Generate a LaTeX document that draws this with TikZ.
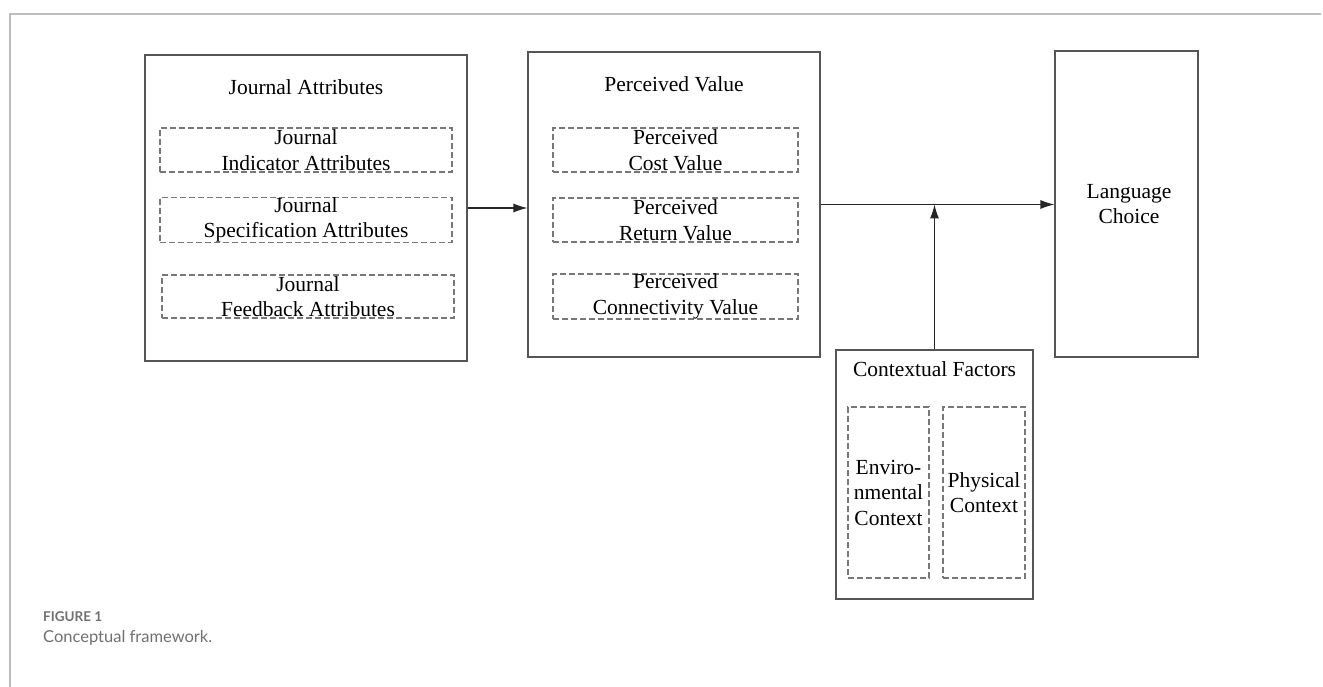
\documentclass[tikz,border=0pt]{standalone}
\usepackage{fontspec}
\setmainfont{Liberation Serif}
\newfontfamily\capfont{Lato}
\usetikzlibrary{arrows.meta}
\definecolor{boxgray}{HTML}{555555}
\definecolor{dashgray}{HTML}{777777}
\definecolor{framegray}{HTML}{BDBDBD}
\definecolor{capgray}{HTML}{707070}

\begin{document}
\begin{tikzpicture}[x=1pt,y=-1pt,
    every node/.style={font=\fontsize{21.5}{25.5}\selectfont,align=center,inner sep=0},
    outerbox/.style={draw=boxgray,line width=1.1pt},
    innerbox/.style={draw=dashgray,line width=1.1pt,dash pattern=on 6pt off 3pt},
    flow/.style={-{Latex[length=14pt,width=9pt]},line width=1.1pt,draw=black!85}]
        \useasboundingbox (0,0) rectangle (1323,687);
        % frame
        \draw[framegray,line width=2.2pt] (10,687) -- (10,14) -- (1321,14);
        % journal attributes
        \node[outerbox,minimum width=322pt,minimum height=306pt] (ja) at (306,208) {};
        \node (jatitle) at (306,87) {Journal Attributes};
        \node[innerbox,minimum width=292pt,minimum height=44pt] (ja1) at (306,150) {Journal\\Indicator Attributes};
        \node[innerbox,minimum width=292pt,minimum height=44pt] (ja2) at (306,220) {Journal\\Specification Attributes};
        \node[innerbox,minimum width=292pt,minimum height=43pt] (ja3) at (308,296.5) {Journal\\Feedback Attributes};
        % perceived value
        \node[outerbox,minimum width=292pt,minimum height=305pt] (pv) at (674,204.5) {};
        \node (pvtitle) at (674,84) {Perceived Value};
        \node[innerbox,minimum width=245pt,minimum height=44pt] (pv1) at (675.5,150) {Perceived\\Cost Value};
        \node[innerbox,minimum width=245pt,minimum height=44pt] (pv2) at (675.5,220) {Perceived\\Return Value};
        \node[innerbox,minimum width=245pt,minimum height=43pt] (pv3) at (675.5,296.5) {Perceived\\Connectivity Value};
        % language choice
        \node[outerbox,minimum width=143pt,minimum height=306pt] (lc) at (1126.5,204) {};
        \node (lctitle) at (1129,204) {Language\\Choice};
        % contextual factors
        \node[outerbox,minimum width=197pt,minimum height=249pt] (cf) at (934.5,474.5) {};
        \node (cftitle) at (934.5,369) {Contextual Factors};
        \node[innerbox,minimum width=81pt,minimum height=171pt] (cf1) at (888.5,492.5) {Enviro-\\nmental\\Context};
        \node[innerbox,minimum width=82pt,minimum height=171pt] (cf2) at (984,492.5) {Physical\\Context};
        % arrows
        \draw[flow] (ja.east) -- (ja.east -| pv.west);
        \draw[flow] (pv.east) -- (pv.east -| lc.west);
        \draw[flow] (cf.north) -- (cf.north |- pv.east);
        % caption
        \node[anchor=base west,font=\capfont\bfseries\fontsize{13.5}{16}\selectfont,text=capgray] (fig) at (43,621) {FIGURE 1};
        \node[anchor=base west,font=\capfont\fontsize{16.5}{20}\selectfont,text=capgray] (cap) at (43,642) {Conceptual framework.};
\end{tikzpicture}
\end{document}
